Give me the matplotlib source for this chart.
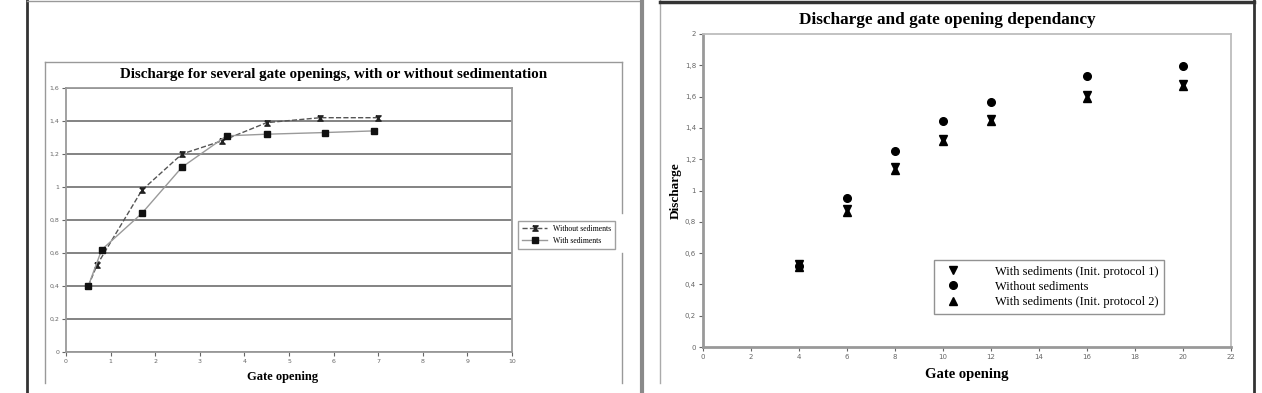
import numpy as np
import matplotlib
matplotlib.use("Agg")
import matplotlib.pyplot as plt
from matplotlib.lines import Line2D

W, H = 1262, 393

# left chart data
gate_wo = [0.5, 0.7, 1.7, 2.6, 3.5, 4.5, 5.7, 7.0]
dis_wo = [0.40, 0.53, 0.98, 1.20, 1.28, 1.39, 1.42, 1.42]
gate_w = [0.5, 0.8, 1.7, 2.6, 3.6, 4.5, 5.8, 6.9]
dis_w = [0.40, 0.62, 0.84, 1.12, 1.31, 1.32, 1.33, 1.34]
left_yticks = [0, 0.2, 0.4, 0.6, 0.8, 1.0, 1.2, 1.4, 1.6]
left_ylabels = ["0", "0,2", "0,4", "0,6", "0,8", "1", "1,2", "1,4", "1,6"]
left_xticks = list(range(0, 11))

# right chart data
gate_r = [4, 6, 8, 10, 12, 16, 20]
dis_prot1 = [0.53, 0.88, 1.15, 1.33, 1.46, 1.61, 1.68]
dis_nosed = [0.52, 0.95, 1.255, 1.445, 1.565, 1.73, 1.795]
dis_prot2 = [0.51, 0.86, 1.13, 1.315, 1.445, 1.59, 1.665]
right_yticks = [0, 0.2, 0.4, 0.6, 0.8, 1.0, 1.2, 1.4, 1.6, 1.8, 2.0]
right_ylabels = ["0", "0,2", "0,4", "0,6", "0,8", "1", "1,2", "1,4", "1,6", "1,8", "2"]
right_xticks = list(range(0, 23, 2))

serif = "Liberation Serif"
tick_grey = "#666666"

fig = plt.figure(figsize=(W / 100, H / 100), dpi=100)


def frac(x0, y0, x1, y1):
    # pixel box -> figure fraction [left, bottom, width, height]
    return [x0 / W, 1 - y1 / H, (x1 - x0) / W, (y1 - y0) / H]


def line(xs, ys, color, lw):
    fig.add_artist(Line2D([x / W for x in xs], [1 - y / H for y in ys],
                          color=color, lw=lw, transform=fig.transFigure))


# frames of the screenshot
line([27, 27], [0, 393], "#333333", 2)
line([27, 642], [1, 1], "#999999", 1)
line([45, 45], [62, 383], "#999999", 1)
line([45, 622], [62, 62], "#999999", 1)
line([622, 622], [62, 213], "#999999", 1)
line([622, 622], [253, 383], "#999999", 1)
line([642, 642], [0, 393], "#8a8a8a", 3)
line([660, 660], [0, 383], "#aaaaaa", 1)
line([660, 1254], [1.5, 1.5], "#333333", 2.5)
line([1254, 1254], [0, 393], "#333333", 2)

hourglass = [(-1, 1), (1, 1), (-1, -1), (1, -1), (-1, 1)]

# ---- left chart ----
ax1 = fig.add_axes(frac(66, 88, 512, 352))
ax1.plot(gate_wo, dis_wo, ls="--", color="#555555", lw=1, marker=hourglass,
         ms=3.8, mfc="#222222", mec="#222222", label="Without sediments")
ax1.plot(gate_w, dis_w, ls="-", color="#9a9a9a", lw=1, marker="s",
         ms=4.5, mfc="#111111", mec="#111111", label="With sediments")
ax1.set_xlim(0, 10)
ax1.set_ylim(0, 1.6)
ax1.set_xticks(left_xticks)
ax1.set_yticks(left_yticks)
ax1.set_yticklabels(left_ylabels)
ax1.grid(axis="y", color="#7a7a7a", lw=1.3)
ax1.set_axisbelow(True)
for s in ax1.spines.values():
    s.set_color("#9a9a9a")
    s.set_linewidth(1.3)
ax1.tick_params(labelsize=4.5, colors=tick_grey, length=3, width=0.8, pad=2)
ax1.set_title("Discharge for several gate openings, with or without sedimentation",
              family=serif, fontweight="bold", fontsize=10.8, x=0.6, pad=7)
ax1.set_xlabel("Gate opening", family=serif, fontweight="bold", fontsize=9,
               labelpad=5, x=0.485)
ax1.legend(loc="upper left", bbox_to_anchor=(514 / W, 1 - 217 / H),
           bbox_transform=fig.transFigure, frameon=True,
           fancybox=False, edgecolor="#888888", borderpad=0.55,
           handlelength=3.2, handletextpad=0.7, labelspacing=0.45,
           prop={"family": serif, "size": 5.6})

# ---- right chart ----
ax2 = fig.add_axes(frac(703, 34, 1231, 347))
ms = 5.5
ax2.plot(gate_r, dis_prot1, ls="none", marker="v", ms=ms, color="black",
         label="With sediments (Init. protocol 1)")
ax2.plot(gate_r, dis_nosed, ls="none", marker="o", ms=ms, color="black",
         label="Without sediments")
ax2.plot(gate_r, dis_prot2, ls="none", marker="^", ms=ms, color="black",
         label="With sediments (Init. protocol 2)")
ax2.set_xlim(0, 22)
ax2.set_ylim(0, 2)
ax2.set_xticks(right_xticks)
ax2.set_yticks(right_yticks)
ax2.set_yticklabels(right_ylabels)
for s in ax2.spines.values():
    s.set_color("#bdbdbd")
    s.set_linewidth(1.3)
ax2.spines["left"].set_color("#999999")
ax2.spines["bottom"].set_color("#999999")
ax2.spines["left"].set_linewidth(2)
ax2.spines["bottom"].set_linewidth(2)
ax2.tick_params(labelsize=5, colors=tick_grey, length=3, width=0.8, pad=2)
ax2.set_title("Discharge and gate opening dependancy", family=serif,
              fontweight="bold", fontsize=12.4, x=0.462, pad=7)
ax2.set_xlabel("Gate opening", family=serif, fontweight="bold", fontsize=10.5, labelpad=6)
ax2.set_ylabel("Discharge", family=serif, fontweight="bold", fontsize=9.5, labelpad=2)
ax2.legend(loc="upper left", bbox_to_anchor=(934 / W, 1 - 260 / H),
           bbox_transform=fig.transFigure, frameon=True, fancybox=False,
           edgecolor="#777777", borderpad=0.45, borderaxespad=0,
           handlelength=2.2, handletextpad=2.2, labelspacing=0.25,
           prop={"family": serif, "size": 9})

fig.savefig("out.png", dpi=100)
